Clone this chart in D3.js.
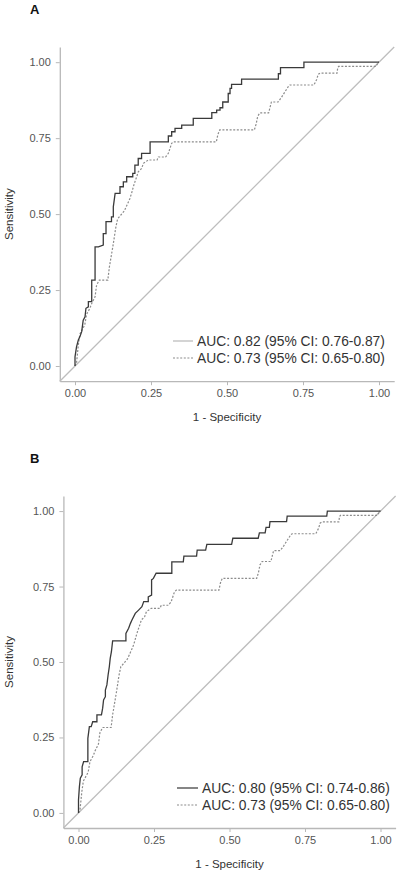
<!DOCTYPE html>
<html>
<head>
<meta charset="utf-8">
<script src="https://cdn.jsdelivr.net/npm/d3@7"></script>
<style>
  html, body { margin: 0; padding: 0; background: #fff; }
  svg { display: block; font-family: "Liberation Sans", Arial, sans-serif; }
</style>
</head>
<body>
<svg id="chart" width="400" height="875"></svg>
<script>
// ---- data ----
const tickValues = [0, 0.25, 0.5, 0.75, 1];
const tickLabels = ["0.00", "0.25", "0.50", "0.75", "1.00"];
const panelLabels = ["A", "B"];
const xTitle = "1 - Specificity";
const yTitle = "Sensitivity";

// [1 - specificity, sensitivity]
const rocSolidA = [[0,0],[0,0.03],[0.005,0.063],[0.011,0.086],[0.016,0.096],[0.022,0.113],[0.027,0.151],[0.033,0.162],[0.036,0.19],[0.044,0.195],[0.044,0.212],[0.055,0.212],[0.055,0.283],[0.066,0.283],[0.066,0.392],[0.077,0.392],[0.093,0.398],[0.093,0.436],[0.102,0.436],[0.102,0.475],[0.12,0.475],[0.12,0.491],[0.126,0.491],[0.126,0.524],[0.132,0.568],[0.148,0.568],[0.148,0.59],[0.159,0.59],[0.159,0.606],[0.17,0.606],[0.17,0.623],[0.19,0.623],[0.19,0.634],[0.197,0.634],[0.197,0.661],[0.208,0.661],[0.208,0.683],[0.219,0.683],[0.219,0.70],[0.247,0.70],[0.247,0.738],[0.307,0.738],[0.307,0.757],[0.318,0.757],[0.318,0.771],[0.329,0.771],[0.329,0.782],[0.351,0.782],[0.351,0.793],[0.389,0.793],[0.389,0.815],[0.45,0.815],[0.45,0.834],[0.466,0.834],[0.466,0.842],[0.477,0.842],[0.477,0.85],[0.486,0.85],[0.486,0.869],[0.504,0.869],[0.504,0.897],[0.51,0.897],[0.51,0.914],[0.515,0.914],[0.515,0.927],[0.548,0.927],[0.548,0.944],[0.669,0.944],[0.669,0.962],[0.676,0.962],[0.676,0.982],[0.753,0.982],[0.753,1],[1,1]];

const rocSolidB = [[0,0],[0,0.043],[0.003,0.087],[0.006,0.115],[0.012,0.126],[0.012,0.153],[0.017,0.17],[0.031,0.17],[0.031,0.247],[0.036,0.286],[0.042,0.286],[0.047,0.302],[0.061,0.302],[0.061,0.325],[0.076,0.325],[0.08,0.347],[0.083,0.374],[0.089,0.385],[0.089,0.407],[0.094,0.424],[0.098,0.457],[0.102,0.484],[0.105,0.512],[0.109,0.534],[0.113,0.570],[0.157,0.570],[0.157,0.595],[0.166,0.612],[0.172,0.628],[0.177,0.639],[0.188,0.661],[0.199,0.672],[0.21,0.683],[0.216,0.70],[0.231,0.70],[0.231,0.716],[0.242,0.722],[0.242,0.772],[0.248,0.777],[0.257,0.794],[0.309,0.794],[0.309,0.832],[0.347,0.832],[0.349,0.851],[0.391,0.851],[0.393,0.871],[0.421,0.871],[0.425,0.89],[0.507,0.89],[0.511,0.91],[0.595,0.91],[0.599,0.928],[0.618,0.928],[0.621,0.946],[0.632,0.946],[0.634,0.965],[0.689,0.965],[0.691,0.983],[0.822,0.983],[0.824,1],[1,1]];

// comparison model (same in both panels)
const rocDotted = [[0,0],[0.005,0.01],[0.011,0.07],[0.016,0.105],[0.032,0.135],[0.038,0.17],[0.049,0.19],[0.055,0.206],[0.066,0.228],[0.071,0.266],[0.08,0.283],[0.108,0.283],[0.113,0.325],[0.118,0.355],[0.124,0.39],[0.129,0.422],[0.134,0.455],[0.14,0.484],[0.151,0.497],[0.162,0.51],[0.172,0.532],[0.18,0.55],[0.186,0.568],[0.192,0.59],[0.197,0.606],[0.203,0.623],[0.208,0.639],[0.219,0.65],[0.225,0.667],[0.241,0.678],[0.27,0.678],[0.274,0.688],[0.298,0.688],[0.307,0.70],[0.318,0.733],[0.324,0.738],[0.465,0.738],[0.47,0.762],[0.476,0.777],[0.59,0.777],[0.596,0.797],[0.601,0.822],[0.608,0.833],[0.637,0.833],[0.642,0.853],[0.646,0.869],[0.668,0.869],[0.679,0.884],[0.689,0.9],[0.702,0.92],[0.707,0.925],[0.786,0.925],[0.795,0.943],[0.80,0.96],[0.806,0.964],[0.862,0.964],[0.864,0.98],[0.867,0.986],[0.99,0.986],[0.998,1],[1,1]];

const legendA = ["AUC: 0.82 (95% CI: 0.76-0.87)", "AUC: 0.73 (95% CI: 0.65-0.80)"];
const legendB = ["AUC: 0.80 (95% CI: 0.74-0.86)", "AUC: 0.73 (95% CI: 0.65-0.80)"];

// ---- drawing ----
const svg = d3.select("#chart");
const domain = [-0.05, 1.05];

const panels = [
  { label: panelLabels[0], solid: rocSolidA, legend: legendA,
    xr: [59.8, 394.2], yr: [381.2, 47], labelPos: [30, 14],
    legendX: 173, legendY: 341, keyLen: 20, key1: "#bdbdbd" },
  { label: panelLabels[1], solid: rocSolidB, legend: legendB,
    xr: [63.4, 395.6], yr: [828, 496], labelPos: [30, 463],
    legendX: 177, legendY: 788, keyLen: 21, key1: "#444" }
];

const axisColor = "#b8b8b8";
const tickText = "#555";

panels.forEach(p => {
  const x = d3.scaleLinear().domain(domain).range(p.xr);
  const y = d3.scaleLinear().domain(domain).range(p.yr);
  const g = svg.append("g");

  // axes
  const xAxis = g.append("g")
    .attr("transform", `translate(0,${p.yr[0]})`)
    .call(d3.axisBottom(x).tickValues(tickValues)
      .tickFormat((d, i) => tickLabels[i]).tickSize(4).tickSizeOuter(0).tickPadding(4));
  const yAxis = g.append("g")
    .attr("transform", `translate(${p.xr[0]},0)`)
    .call(d3.axisLeft(y).tickValues(tickValues)
      .tickFormat((d, i) => tickLabels[i]).tickSize(4).tickSizeOuter(0).tickPadding(5));
  [xAxis, yAxis].forEach(a => {
    a.select(".domain").attr("stroke", axisColor).attr("stroke-width", 1.3);
    a.selectAll(".tick line").attr("stroke", axisColor).attr("stroke-width", 1);
    a.selectAll(".tick text").attr("fill", tickText)
      .style("font-size", "11px").style("font-family", "'Liberation Sans', Arial, sans-serif");
  });

  // diagonal reference line across the panel
  g.append("line")
    .attr("x1", x(domain[0])).attr("y1", y(domain[0]))
    .attr("x2", x(domain[1])).attr("y2", y(domain[1]))
    .attr("stroke", "#bdbdbd").attr("stroke-width", 1.3);

  const line = d3.line().x(d => x(d[0])).y(d => y(d[1]));

  g.append("path").datum(rocDotted)
    .attr("d", line).attr("fill", "none")
    .attr("stroke", "#8c8c8c").attr("stroke-width", 1.2)
    .attr("stroke-dasharray", "2,1.6");

  g.append("path").datum(p.solid)
    .attr("d", line).attr("fill", "none")
    .attr("stroke", "#3a3a3a").attr("stroke-width", 1.3);

  // axis titles
  g.append("text")
    .attr("x", (p.xr[0] + p.xr[1]) / 2).attr("y", p.yr[0] + 39.5)
    .attr("text-anchor", "middle").attr("fill", "#333")
    .style("font-size", "11.5px").text(xTitle);
  g.append("text")
    .attr("transform", `translate(13,${(p.yr[0] + p.yr[1]) / 2}) rotate(-90)`)
    .attr("text-anchor", "middle").attr("fill", "#333")
    .style("font-size", "11.5px").text(yTitle);

  // panel label
  g.append("text")
    .attr("x", p.labelPos[0]).attr("y", p.labelPos[1])
    .attr("fill", "#111").style("font-weight", "bold").style("font-size", "13px")
    .text(p.label);

  // legend
  const keyStyles = [
    { stroke: p.key1, dash: null, w: 1.3 },
    { stroke: "#8c8c8c", dash: "2,1.6", w: 1.2 }
  ];
  p.legend.forEach((t, i) => {
    const yy = p.legendY + i * 17;
    const k = g.append("line")
      .attr("x1", p.legendX).attr("x2", p.legendX + p.keyLen)
      .attr("y1", yy).attr("y2", yy)
      .attr("stroke", keyStyles[i].stroke).attr("stroke-width", keyStyles[i].w);
    if (keyStyles[i].dash) k.attr("stroke-dasharray", keyStyles[i].dash);
    g.append("text")
      .attr("x", p.legendX + p.keyLen + 4).attr("y", yy)
      .attr("dy", "0.35em").attr("fill", "#333")
      .style("font-size", "13.8px").text(t);
  });
});
</script>
</body>
</html>
